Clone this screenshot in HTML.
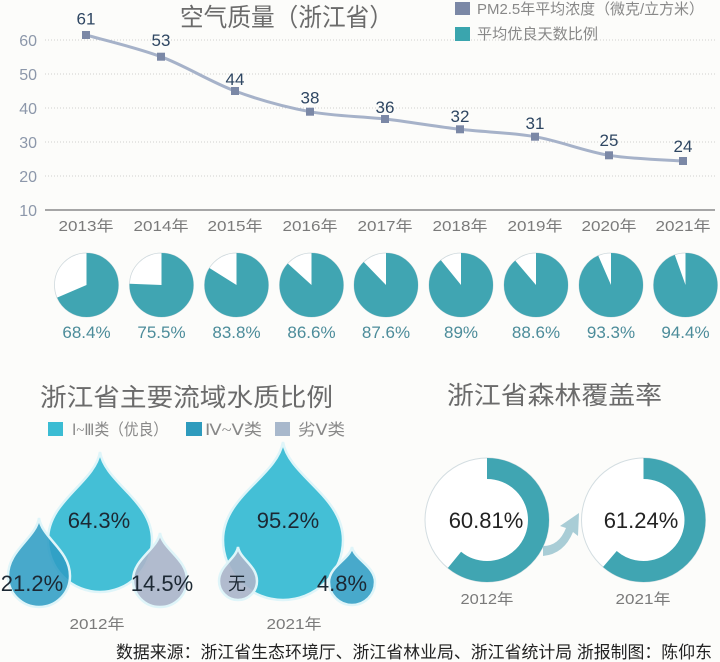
<!DOCTYPE html>
<html><head><meta charset="utf-8"><style>
html,body{margin:0;padding:0;background:#fcfcfa;}
svg{display:block;}
text{font-family:"Liberation Sans","Noto Sans CJK SC",sans-serif;}
</style></head><body>
<svg width="720" height="662" viewBox="0 0 720 662" xmlns="http://www.w3.org/2000/svg">
<rect width="720" height="662" fill="#fcfcfa"/>
<!-- gridlines -->
<g stroke="#cfcfcf" stroke-width="1" stroke-dasharray="1,2">
<line x1="45" y1="40" x2="715" y2="40"/>
<line x1="45" y1="74" x2="715" y2="74"/>
<line x1="45" y1="108" x2="715" y2="108"/>
<line x1="45" y1="142" x2="715" y2="142"/>
<line x1="45" y1="176" x2="715" y2="176"/>
</g>
<line x1="45" y1="210" x2="715" y2="210" stroke="#8a8a8a" stroke-width="1.5"/>
<g font-size="16" fill="#8c97aa" text-anchor="end">
<text x="37" y="46">60</text><text x="37" y="80">50</text><text x="37" y="114">40</text>
<text x="37" y="148">30</text><text x="37" y="182">20</text><text x="37" y="216">10</text>
</g>
<g font-size="15" fill="#7a7a7a" text-anchor="middle">
<text x="86" y="231" textLength="55" lengthAdjust="spacingAndGlyphs">2013年</text>
<text x="161" y="231" textLength="55" lengthAdjust="spacingAndGlyphs">2014年</text>
<text x="235" y="231" textLength="55" lengthAdjust="spacingAndGlyphs">2015年</text>
<text x="310" y="231" textLength="55" lengthAdjust="spacingAndGlyphs">2016年</text>
<text x="385" y="231" textLength="55" lengthAdjust="spacingAndGlyphs">2017年</text>
<text x="460" y="231" textLength="55" lengthAdjust="spacingAndGlyphs">2018年</text>
<text x="535" y="231" textLength="55" lengthAdjust="spacingAndGlyphs">2019年</text>
<text x="609" y="231" textLength="55" lengthAdjust="spacingAndGlyphs">2020年</text>
<text x="683" y="231" textLength="55" lengthAdjust="spacingAndGlyphs">2021年</text>
</g>
<!-- line -->
<path d="M86,35 C98.5,38.6 136.2,47.4 161,56.7 C185.8,66 210.2,81.8 235,91 C259.8,100.2 285,107 310,111.7 C335,116.4 360,116.1 385,119 C410,121.9 435,126.35 460,129.3 C485,132.25 510.2,132.4 535,136.7 C559.8,141 584.3,151.25 609,155.3 C633.7,159.35 670.7,160.05 683,161" fill="none" stroke="#a6b2c9" stroke-width="3"/>
<g fill="#7b88a6">
<rect x="82" y="31" width="8" height="8"/><rect x="157" y="52.7" width="8" height="8"/>
<rect x="231" y="87" width="8" height="8"/><rect x="306" y="107.7" width="8" height="8"/>
<rect x="381" y="115" width="8" height="8"/><rect x="456" y="125.3" width="8" height="8"/>
<rect x="531" y="132.7" width="8" height="8"/><rect x="605" y="151.3" width="8" height="8"/>
<rect x="679" y="157" width="8" height="8"/>
</g>
<g font-size="17" fill="#2e4662" text-anchor="middle">
<text x="86" y="24.5">61</text><text x="161" y="46">53</text><text x="235" y="85">44</text>
<text x="310" y="103.5">38</text><text x="385" y="113">36</text><text x="460" y="122">32</text>
<text x="535" y="129">31</text><text x="609" y="146">25</text><text x="683" y="152">24</text>
</g>
<!-- title & legend -->
<text x="180" y="26" font-size="25" fill="#6b6b6b" textLength="213" lengthAdjust="spacingAndGlyphs">空气质量（浙江省）</text>
<rect x="455" y="2" width="15" height="13" fill="#7b88a6"/>
<text x="477" y="14" font-size="15" fill="#888" textLength="227" lengthAdjust="spacingAndGlyphs">PM2.5年平均浓度（微克/立方米）</text>
<rect x="455" y="27" width="15" height="14" fill="#3aa5ae"/>
<text x="477" y="39" font-size="15" fill="#888" textLength="121" lengthAdjust="spacingAndGlyphs">平均优良天数比例</text>
<!-- pies -->
<g fill="#fff" stroke="#cfd9dd" stroke-width="0.8">
<circle cx="86.5" cy="285" r="32"/><circle cx="161.5" cy="285" r="32"/><circle cx="236.5" cy="285" r="32"/>
<circle cx="311.5" cy="285" r="32"/><circle cx="386" cy="285" r="32"/><circle cx="461" cy="285" r="32"/>
<circle cx="536" cy="285" r="32"/><circle cx="611" cy="285" r="32"/><circle cx="685.5" cy="285" r="32"/>
</g>
<g fill="none" stroke="#40a5b2" stroke-width="32">
<circle cx="86.5" cy="285" r="16" stroke-dasharray="68.77 200" transform="rotate(-90 86.5 285)"/>
<circle cx="161.5" cy="285" r="16" stroke-dasharray="75.90 200" transform="rotate(-90 161.5 285)"/>
<circle cx="236.5" cy="285" r="16" stroke-dasharray="84.24 200" transform="rotate(-90 236.5 285)"/>
<circle cx="311.5" cy="285" r="16" stroke-dasharray="87.06 200" transform="rotate(-90 311.5 285)"/>
<circle cx="386" cy="285" r="16" stroke-dasharray="88.07 200" transform="rotate(-90 386 285)"/>
<circle cx="461" cy="285" r="16" stroke-dasharray="89.47 200" transform="rotate(-90 461 285)"/>
<circle cx="536" cy="285" r="16" stroke-dasharray="89.07 200" transform="rotate(-90 536 285)"/>
<circle cx="611" cy="285" r="16" stroke-dasharray="93.80 200" transform="rotate(-90 611 285)"/>
<circle cx="685.5" cy="285" r="16" stroke-dasharray="94.90 200" transform="rotate(-90 685.5 285)"/>
</g>
<g font-size="17" fill="#4c8c9a" text-anchor="middle">
<text x="86.5" y="338">68.4%</text><text x="161.5" y="338">75.5%</text><text x="236.5" y="338">83.8%</text>
<text x="311.5" y="338">86.6%</text><text x="386" y="338">87.6%</text><text x="461" y="338">89%</text>
<text x="536" y="338">88.6%</text><text x="611" y="338">93.3%</text><text x="685.5" y="338">94.4%</text>
</g>
<!-- water section -->
<text x="40" y="406" font-size="25" fill="#6b6b6b" textLength="293" lengthAdjust="spacingAndGlyphs">浙江省主要流域水质比例</text>
<rect x="48" y="422" width="15" height="14" fill="#3bbcd3"/>
<text x="72" y="435" font-size="16" fill="#888" textLength="96" lengthAdjust="spacingAndGlyphs"><tspan font-family="Liberation Serif, serif">Ⅰ~Ⅲ</tspan>类（优良）</text>
<rect x="186" y="422" width="16" height="14" fill="#2e9bbd"/>
<text x="205" y="435" font-size="16" fill="#888" textLength="57" lengthAdjust="spacingAndGlyphs"><tspan font-family="Liberation Serif, serif">Ⅳ~Ⅴ</tspan>类</text>
<rect x="275" y="422" width="15" height="14" fill="#a8b8cc"/>
<text x="298" y="435" font-size="16" fill="#888" textLength="47" lengthAdjust="spacingAndGlyphs">劣<tspan font-family="Liberation Serif, serif">Ⅴ</tspan>类</text>
<g stroke="#dff5f9" stroke-width="2.5">
<path d="M100,452 C105.2,482.8 152,500.4 152,540 A52,52 0 0 1 48,540 C48,500.4 94.8,482.8 100,452Z" fill="#44bfd6"/>
<path d="M39,518 C42.1,538.3 70,549.9 70,576 A31,31 0 0 1 8,576 C8,549.9 35.9,538.3 39,518Z" fill="#2f9dc4" fill-opacity="0.88"/>
<path d="M160,533 C162.7,549.5 187,558.9 187,580 A27,27 0 0 1 133,580 C133,558.9 157.3,549.5 160,533Z" fill="#aab5ca" fill-opacity="0.92"/>
<path d="M283,442 C289,476.3 343,495.9 343,540 A60,60 0 0 1 223,540 C223,495.9 277,476.3 283,442Z" fill="#44bfd6"/>
<path d="M238,547 C239.9,558.9 257,565.7 257,581 A19,19 0 0 1 219,581 C219,565.7 236.1,558.9 238,547Z" fill="#aab5ca" fill-opacity="0.92"/>
<path d="M352,547 C354.3,559.25 375,566.25 375,582 A23,23 0 0 1 329,582 C329,566.25 349.7,559.25 352,547Z" fill="#2f9dc4" fill-opacity="0.88"/>
</g>
<g font-size="22" fill="#1c2833" text-anchor="middle">
<text x="99" y="528">64.3%</text>
<text x="32" y="591">21.2%</text>
<text x="162" y="591">14.5%</text>
<text x="288" y="528">95.2%</text>
<text x="237" y="590" font-size="18">无</text>
<text x="342" y="591">4.8%</text>
</g>
<g font-size="15" fill="#7a7a7a" text-anchor="middle">
<text x="97" y="629" textLength="55" lengthAdjust="spacingAndGlyphs">2012年</text>
<text x="294" y="629" textLength="55" lengthAdjust="spacingAndGlyphs">2021年</text>
</g>
<!-- forest -->
<text x="447" y="404" font-size="25" fill="#6b6b6b" textLength="215" lengthAdjust="spacingAndGlyphs">浙江省森林覆盖率</text>
<circle cx="487" cy="520" r="62" fill="#fff" stroke="#d3dde1" stroke-width="1"/>
<circle cx="487" cy="520" r="51.5" fill="none" stroke="#40a5b2" stroke-width="21" stroke-dasharray="196.8 400" transform="rotate(-90 487 520)"/>
<circle cx="643.5" cy="520" r="62" fill="#fff" stroke="#d3dde1" stroke-width="1"/>
<circle cx="643.5" cy="520" r="51.5" fill="none" stroke="#40a5b2" stroke-width="21" stroke-dasharray="198.2 400" transform="rotate(-90 643.5 520)"/>
<path d="M543,546 Q559,546 566,528 L560,526 L579,513 L578,536 L573,532 Q564,554 543,556 Z" fill="#a9cdd6"/>
<g font-size="22" fill="#222" text-anchor="middle">
<text x="486" y="528">60.81%</text>
<text x="641" y="528">61.24%</text>
</g>
<g font-size="15" fill="#7a7a7a" text-anchor="middle">
<text x="487" y="604" textLength="53" lengthAdjust="spacingAndGlyphs">2012年</text>
<text x="643" y="604" textLength="55" lengthAdjust="spacingAndGlyphs">2021年</text>
</g>
<!-- footer -->
<text x="116" y="658" font-size="17" fill="#222" textLength="596" lengthAdjust="spacingAndGlyphs">数据来源：浙江省生态环境厅、浙江省林业局、浙江省统计局  浙报制图：陈仰东</text>
</svg>
</body></html>
